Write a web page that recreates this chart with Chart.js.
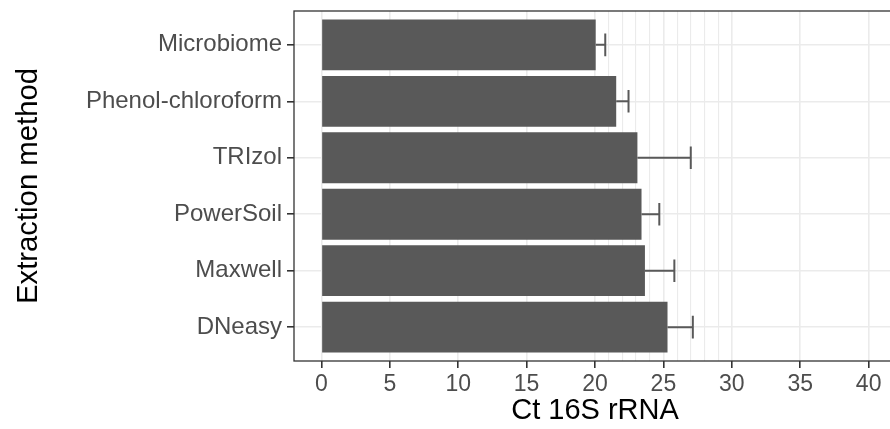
<!DOCTYPE html>
<html>
<head>
<meta charset="utf-8">
<script src="https://cdn.jsdelivr.net/npm/chart.js@4"></script>
<style>
  html, body { margin: 0; padding: 0; background: #fff; overflow: hidden; }
</style>
</head>
<body>
<canvas id="mychart" width="896" height="429"></canvas>
<script>
// values (top to bottom)
const methods = ['Microbiome', 'Phenol-chloroform', 'TRIzol', 'PowerSoil', 'Maxwell', 'DNeasy'];
const ctMeans = [20.05, 21.55, 23.1, 23.4, 23.65, 25.3];
const ctErrors = [0.7, 0.9, 3.9, 1.3, 2.15, 1.85];
const xMajorTicks = [0, 5, 10, 15, 20, 25, 30, 35, 40];
const xMinorTicks = [21, 22, 23, 24, 26, 27, 28, 29];

const FONT = '"Liberation Sans", Arial, Helvetica, sans-serif';
const isMajor = v => xMajorTicks.includes(v);

// panel border + error bars
const panelBits = {
    id: 'panelBits',
    afterDatasetsDraw(chart) {
        const { ctx, scales: { x, y } } = chart;
        ctx.save();
        ctx.strokeStyle = '#595959';
        ctx.lineWidth = 2;
        methods.forEach((m, i) => {
            const yp = y.getPixelForValue(i + 1);
            const half = Math.abs(y.getPixelForValue(1.2) - y.getPixelForValue(1));
            const x0 = x.getPixelForValue(ctMeans[i]);
            const x1 = x.getPixelForValue(ctMeans[i] + ctErrors[i]);
            ctx.beginPath();
            ctx.moveTo(x0, yp);
            ctx.lineTo(x1, yp);
            ctx.moveTo(x1, yp - half);
            ctx.lineTo(x1, yp + half);
            ctx.stroke();
        });
        ctx.restore();
    },
    afterDraw(chart) {
        const { ctx, chartArea: a } = chart;
        ctx.save();
        ctx.strokeStyle = '#333333';
        ctx.lineWidth = 1.3;
        ctx.strokeRect(a.left, a.top, a.right - a.left + 5, a.bottom - a.top);
        ctx.restore();
    }
};

const ctx = document.getElementById('mychart').getContext('2d');
let myChart = new Chart(ctx, {
    type: 'bar',
    data: {
        datasets: [{
            data: ctMeans.map((v, i) => ({ x: v, y: i + 1 })),
            backgroundColor: '#595959',
            borderWidth: 0,
            barPercentage: 0.9,
            categoryPercentage: 1
        }]
    },
    options: {
        indexAxis: 'y',
        responsive: false,
        animation: false,
        layout: { padding: { top: 11, left: 0, right: 0, bottom: 0 } },
        plugins: { legend: { display: false }, tooltip: { enabled: false } },
        scales: {
            x: {
                type: 'linear',
                min: -2,
                max: 42,
                afterBuildTicks: s => {
                    s.ticks = xMajorTicks.concat(xMinorTicks).sort((a, b) => a - b).map(v => ({ value: v }));
                },
                afterFit: s => { s.height = 68; },
                border: { display: false },
                grid: {
                    color: '#ebebeb',
                    lineWidth: c => isMajor(c.tick.value) ? 1.6 : 1.1,
                    tickLength: 7,
                    tickColor: c => isMajor(c.tick.value) ? '#333333' : 'rgba(0,0,0,0)',
                    tickWidth: 1.6
                },
                ticks: {
                    autoSkip: false,
                    maxRotation: 0,
                    padding: 3,
                    color: '#4d4d4d',
                    font: { family: FONT, size: 23 },
                    callback: v => isMajor(v) ? String(v) : ''
                },
                title: {
                    display: true,
                    text: 'Ct 16S rRNA',
                    color: '#000000',
                    font: { family: FONT, size: 29 },
                    padding: { top: 0, bottom: 1 }
                }
            },
            y: {
                type: 'linear',
                min: 0.4,
                max: 6.6,
                reverse: true,
                offset: false,
                afterBuildTicks: s => {
                    s.ticks = methods.map((m, i) => ({ value: i + 1 }));
                },
                afterFit: s => {
                    s.width = 294;
                    s.paddingTop = 0;
                    s.paddingBottom = 0;
                },
                border: { display: false },
                grid: {
                    offset: false,
                    color: '#ebebeb',
                    lineWidth: 1.6,
                    tickLength: 7,
                    tickColor: '#333333',
                    tickWidth: 1.6
                },
                ticks: {
                    autoSkip: false,
                    padding: 5,
                    color: '#4d4d4d',
                    font: { family: FONT, size: 24 },
                    callback: v => methods[v - 1] || ''
                },
                title: {
                    display: true,
                    text: 'Extraction method',
                    color: '#000000',
                    font: { family: FONT, size: 29.3 },
                    padding: { top: 11, bottom: 0 }
                }
            }
        }
    },
    plugins: [panelBits]
});
</script>
</body>
</html>
